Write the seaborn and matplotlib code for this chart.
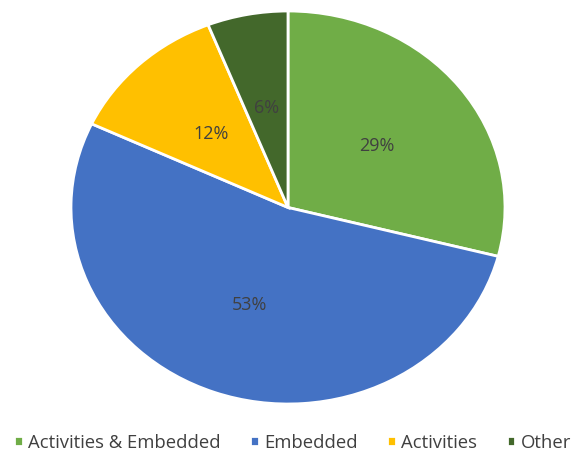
import seaborn as sns
import matplotlib.pyplot as plt

# data
labels = ['Activities & Embedded', 'Embedded', 'Activities', 'Other']
shares = [29, 53, 12, 6]
colors = ['#70AD47', '#4472C4', '#FFC000', '#43682B']

sns.set_theme(style='white')
plt.rcParams['font.family'] = ['Open Sans', 'DejaVu Sans']

fig = plt.figure(figsize=(5.74, 4.56), dpi=100)
# pie stretched slightly wider than tall, like the original
ax = fig.add_axes([71 / 574, 51 / 456, 434 / 574, 393 / 456])

wedges, texts, autotexts = ax.pie(
    shares, colors=colors, startangle=90, counterclock=False,
    autopct='%1.0f%%', pctdistance=0.52,
    wedgeprops={'edgecolor': 'white', 'linewidth': 2},
    textprops={'color': '#404040', 'fontsize': 13},
)
ax.set_aspect('auto')
ax.set_xlim(-1, 1)
ax.set_ylim(-1, 1)
for w in wedges:
    w.set_clip_on(False)

ax.legend(wedges, labels, loc='lower center', bbox_to_anchor=(0.51, 0.0),
          bbox_transform=fig.transFigure, ncol=4, frameon=False,
          fontsize=13.3, handlelength=0.45, handleheight=0.45,
          handletextpad=0.3, columnspacing=1.6, labelcolor='#404040',
          borderaxespad=0.0, borderpad=0.2)

fig.savefig('out.png', dpi=100)
